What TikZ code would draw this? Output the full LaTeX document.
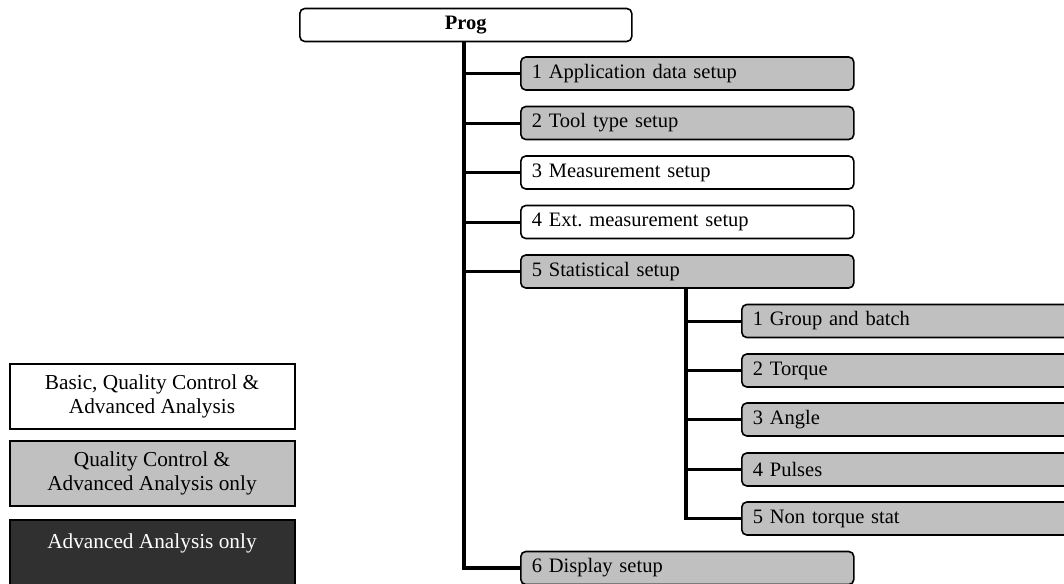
\documentclass[tikz,border=0pt]{standalone}
\usepackage{fontspec}
\setmainfont{Liberation Serif}
\definecolor{boxgray}{HTML}{C0C0C0}
\definecolor{boxdark}{HTML}{303030}
\frenchspacing
\begin{document}
\begin{tikzpicture}[x=1pt,y=-1pt,
  txt/.style={font=\fontsize{20.5}{24}\selectfont},
  menu/.style={txt, draw=black, line width=1.6pt, rounded corners=5pt,
    minimum height=33pt, inner xsep=11pt, inner ysep=0pt,
    text width=311pt, align=left, anchor=west},
  submenu/.style={menu, text width=400pt},
  plain/.style={fill=white},
  qc/.style={fill=boxgray},
  legendtxt/.style={font=\fontsize{21.3}{24}\selectfont},
  legendbox/.style={legendtxt, draw=black, line width=2pt, minimum width=285pt,
    minimum height=65pt, inner sep=0pt, align=center},
  trunk/.style={line width=3.8pt},
  branch/.style={line width=3pt}
]
\clip (0,0) rectangle (1064,583);
\fill[white] (0,0) rectangle (1064,583);

% top level menu
\node[menu, plain, text width=310pt, align=center, font=\fontsize{20.5}{24}\selectfont\bfseries]
  (prog) at (299,25) {Prog};

% first level entries
\node[menu, qc]    (m1) at (520,73.5)  {1 Application data setup};
\node[menu, qc]    (m2) at (520,123)   {2 Tool type setup};
\node[menu, plain] (m3) at (520,172.5) {3 Measurement setup};
\node[menu, plain] (m4) at (520,222)   {4 Ext. measurement setup};
\node[menu, qc]    (m5) at (520,271.5) {5 Statistical setup};
\node[menu, qc]    (m6) at (520,568)   {6 Display setup};

% statistical sub-entries
\node[submenu, qc] (s1) at (741,321)   {1 Group and batch};
\node[submenu, qc] (s2) at (741,370.5) {2 Torque};
\node[submenu, qc] (s3) at (741,419.5) {3 Angle};
\node[submenu, qc] (s4) at (741,469.5) {4 Pulses};
\node[submenu, qc] (s5) at (741,518.5) {5 Non torque stat};

% tree connectors
\draw[trunk] (prog.south -| 464,0) |- (m6.west);
\foreach \m in {m1,m2,m3,m4,m5}
  \draw[branch] (464,0 |- \m.west) -- (\m.west);
\draw[trunk] (m5.south -| 686,0) |- (s5.west);
\foreach \s in {s1,s2,s3,s4}
  \draw[branch] (686,0 |- \s.west) -- (\s.west);

% legend
\node[legendbox, fill=white] (lg1) at (152,396.5)
  {Basic, Quality Control \&\\Advanced Analysis};
\node[legendbox, fill=boxgray] (lg2) at (152,473)
  {Quality Control \&\\Advanced Analysis only};
\node[legendbox, fill=boxdark, minimum height=70pt, anchor=north] (lg3) at (152,519) {};
\node[legendtxt, text=white] (lg3t) at (152,543) {Advanced Analysis only};
\end{tikzpicture}
\end{document}
